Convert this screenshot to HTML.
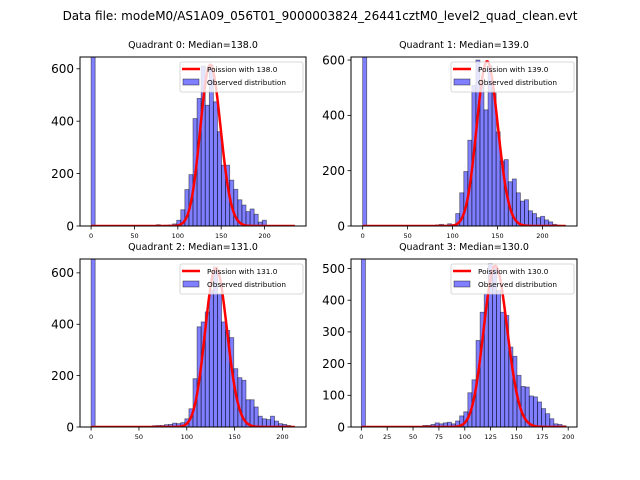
<!DOCTYPE html>
<html><head><meta charset="utf-8"><style>
html,body{margin:0;padding:0;background:#fff;}
svg{display:block;font-family:"DejaVu Sans","Liberation Sans",sans-serif;}
</style></head><body>
<svg id="fig" width="640" height="480" viewBox="0 0 640 480" xmlns="http://www.w3.org/2000/svg">
<rect width="640" height="480" fill="#fff"/>
<text x="320" y="20" font-size="12" text-anchor="middle">Data file: modeM0/AS1A09_056T01_9000003824_26441cztM0_level2_quad_clean.evt</text>
</svg>
<script>
// ---- data ----
const quadNames = ["Quadrant 0", "Quadrant 1", "Quadrant 2", "Quadrant 3"];
const medians = [138.0, 139.0, 131.0, 130.0];
const binWidths = [4.7, 4.5, 4.26, 3.96];
const firstBin = [15, 15, 15, 15];
const zeroBinCounts = [5000, 5000, 5000, 5000];
const counts0 = [0,5,0,3,4,8,22,62,139,196,410,487,610,461,614,474,360,232,232,175,140,100,80,55,65,45,15,22];
const counts1 = [0,2,0,4,6,3,8,5,45,120,197,310,508,600,508,420,580,480,340,235,240,160,170,120,90,95,55,45,30,35,22,15,6,3];
const counts2 = [5,6,6,9,10,15,13,17,32,71,188,390,409,448,532,623,519,409,376,348,227,192,182,106,106,78,42,32,29,42,23,13,10,6];
const counts3 = [5,5,8,13,10,13,15,10,19,35,48,108,149,273,362,420,515,504,431,362,352,252,223,163,128,126,98,95,79,58,42,26,10,8,4];
const poissonPeaks = [615, 595, 618, 508];
const xMaxData = [235, 226, 213, 198];
const yMax = [645, 611, 654, 530];
const yTicks0 = [0,200,400,600];
const yTicks1 = [0,200,400,600];
const yTicks2 = [0,200,400,600];
const yTicks3 = [0,100,200,300,400,500];
const xTicks0 = [0,50,100,150,200];
const xTicks1 = [0,50,100,150,200];
const xTicks2 = [0,50,100,150,200];
const xTicks3 = [0,25,50,75,100,125,150,175,200];

const allCounts=[counts0,counts1,counts2,counts3];
const allYTicks=[yTicks0,yTicks1,yTicks2,yTicks3];
const allXTicks=[xTicks0,xTicks1,xTicks2,xTicks3];
const boxes=[{l:80,t:57,r:306,b:226},{l:351,t:57,r:577,b:226},{l:80,t:259,r:306,b:427},{l:351,t:259,r:577,b:427}];
const xMinAx=[-12.8,-13,-11.6,-10];
const xMaxAx=[xMaxData[0]+12.8,xMaxData[1]+12.5,xMaxData[2]+11.6,xMaxData[3]+10.5];

const NS="http://www.w3.org/2000/svg";
const fig=document.getElementById('fig');
function mk(tag,attrs,parent){const e=document.createElementNS(NS,tag);for(const k in attrs)e.setAttribute(k,attrs[k]);(parent||fig).appendChild(e);return e;}
function lgamma(z){const c=[76.18009172947146,-86.50532032941677,24.01409824083091,-1.231739572450155,0.1208650973866179e-2,-0.5395239384953e-5];let x=z,y=z,t=x+5.5;t-=(x+0.5)*Math.log(t);let s=1.000000000190015;for(let j=0;j<6;j++)s+=c[j]/++y;return -t+Math.log(2.5066282746310005*s/x);}

for(let q=0;q<4;q++){
  const B=boxes[q];
  const sx=v=>B.l+(v-xMinAx[q])/(xMaxAx[q]-xMinAx[q])*(B.r-B.l);
  const sy=v=>B.b-v/yMax[q]*(B.b-B.t);
  const g=mk('g',{});
  
  
  const cid='clip'+q;
  const cp=mk('clipPath',{id:cid},g);
  mk('rect',{x:B.l,y:B.t,width:B.r-B.l,height:B.b-B.t},cp);
  const pg=mk('g',{'clip-path':'url(#'+cid+')'},g);
  const bw=binWidths[q];
  const z=mk('rect',{x:sx(0),y:sy(zeroBinCounts[q]),width:sx(bw)-sx(0),height:sy(0)-sy(zeroBinCounts[q]),fill:'rgba(0,0,255,0.5)',stroke:'rgba(0,0,0,0.5)','stroke-width':0.8},pg);
  
  
  const cs=allCounts[q];
  for(let i=0;i<cs.length;i++){
    const v0=(firstBin[q]+i)*bw;
    const r=mk('rect',{x:sx(v0),y:sy(cs[i]),width:sx(v0+bw)-sx(v0),height:sy(0)-sy(cs[i]),fill:'rgba(0,0,255,0.5)',stroke:'rgba(0,0,0,0.5)','stroke-width':0.8},pg);
    
    
  }
  const lam=medians[q];
  const pk=Math.exp(Math.floor(lam)*Math.log(lam)-lam-lgamma(Math.floor(lam)+1));
  let d='';
  for(let k=0;k<=xMaxData[q];k++){
    const p=Math.exp(k*Math.log(lam||1)-lam-lgamma(k+1))/pk*poissonPeaks[q];
    d+=(k?'L':'M')+sx(k).toFixed(2)+','+sy(p).toFixed(2);
  }
  const cl=mk('path',{d:d,fill:'none',stroke:'#f00','stroke-width':2.5},pg);
  
  
  mk('rect',{x:B.l,y:B.t,width:B.r-B.l,height:B.b-B.t,fill:'none',stroke:'#000','stroke-width':1},g);
  for(const t of allYTicks[q]){
    const y=sy(t);
    mk('line',{x1:B.l-3.5,x2:B.l,y1:y,y2:y,stroke:'#000','stroke-width':0.8},g);
    const tx=mk('text',{x:B.l-6,y:y+4.3,'font-size':12,'text-anchor':'end'},g);
    tx.textContent=t;
    
    
  }
  for(const t of allXTicks[q]){
    const x=sx(t);
    mk('line',{x1:x,x2:x,y1:B.b,y2:B.b+3.5,stroke:'#000','stroke-width':0.8},g);
    const tx=mk('text',{x:x,y:B.b+12,'font-size':6.5,'text-anchor':'middle'},g);
    tx.textContent=t;
    
    
  }
  const ti=mk('text',{x:(B.l+B.r)/2,y:B.t-9,'font-size':9.5,'text-anchor':'middle'},g);
  ti.textContent=quadNames[q]+': Median='+medians[q].toFixed(1);
  
  
  const lg=mk('g',{},g);
  
  
  const L=B.r-126, T=B.t+5;
  mk('rect',{x:L,y:T,width:123,height:30,rx:2,fill:'rgba(255,255,255,0.8)',stroke:'#ccc','stroke-width':0.8},lg);
  mk('line',{x1:L+2,x2:L+20,y1:T+7,y2:T+7,stroke:'#f00','stroke-width':2.5},lg);
  const t1=mk('text',{x:L+27,y:T+10,'font-size':7.3},lg);
  t1.textContent='Poission with '+medians[q].toFixed(1);
  
  
  mk('rect',{x:L+3,y:T+17,width:16,height:6,fill:'rgba(0,0,255,0.5)',stroke:'rgba(0,0,0,0.5)','stroke-width':0.8},lg);
  const t2=mk('text',{x:L+27,y:T+23,'font-size':7.3},lg);
  t2.textContent='Observed distribution';
  
  
}
</script>
</body></html>
